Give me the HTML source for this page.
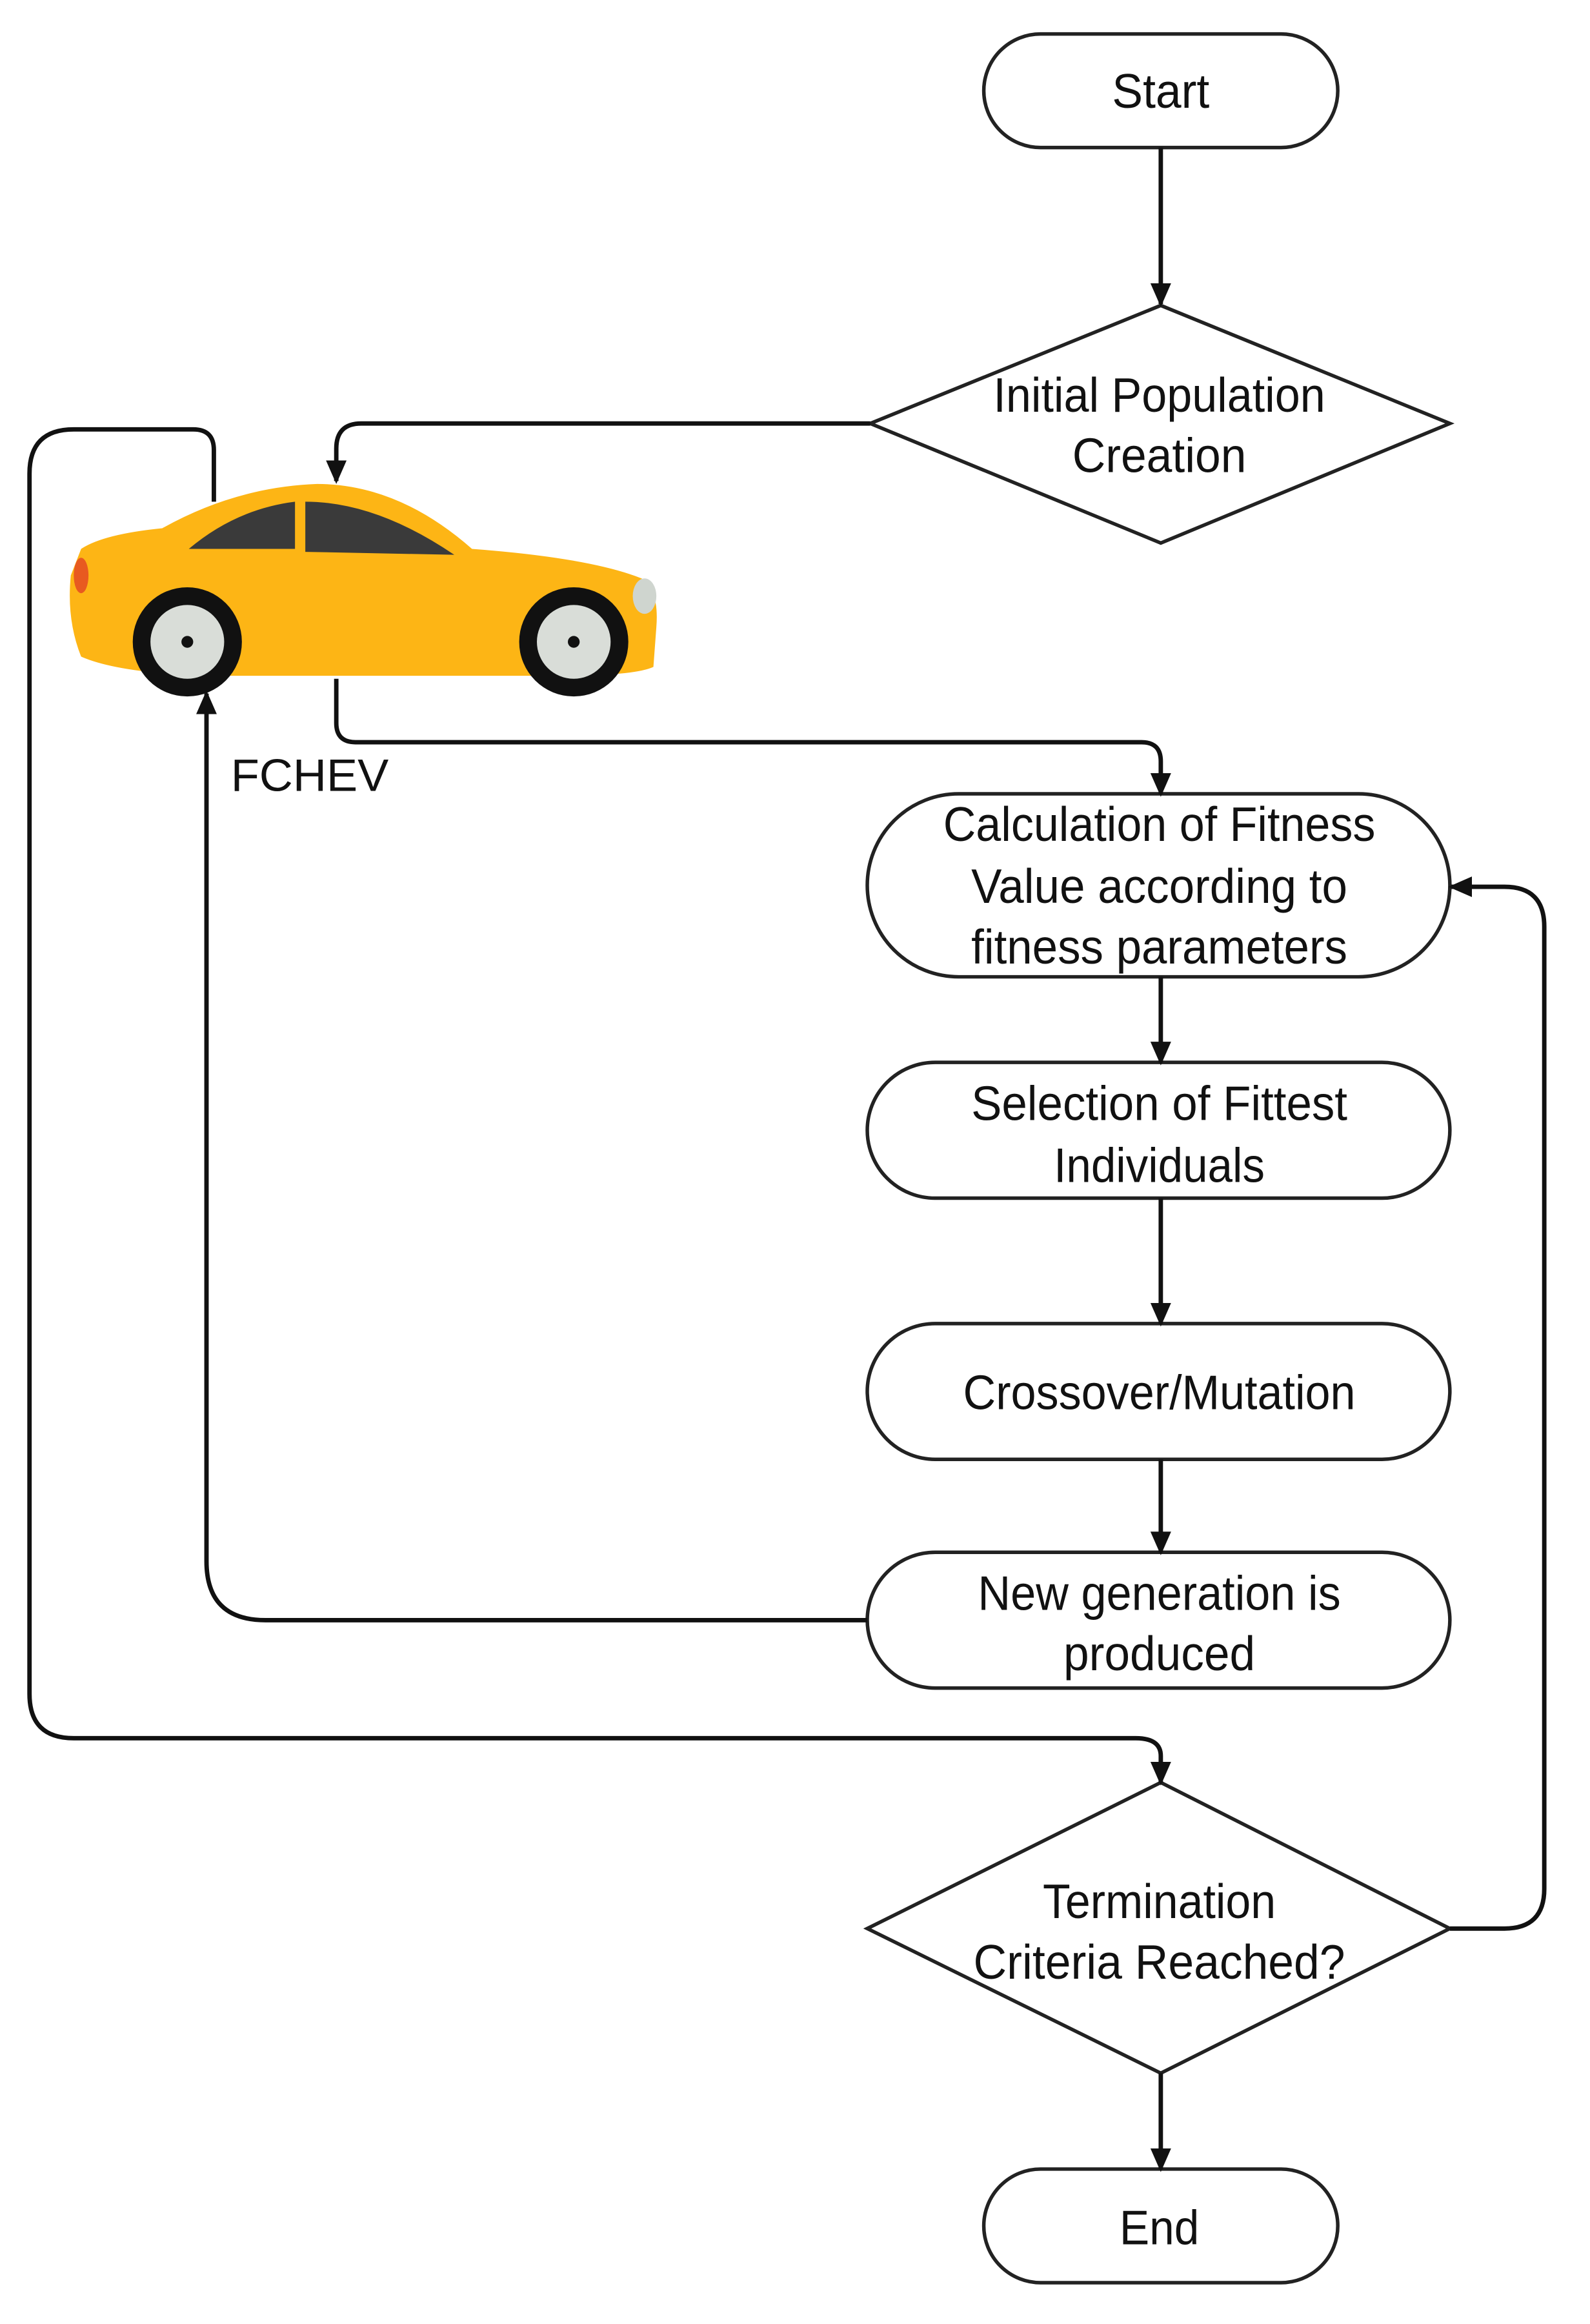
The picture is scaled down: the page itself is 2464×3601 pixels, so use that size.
<!DOCTYPE html>
<html><head><meta charset="utf-8"><style>
html,body{margin:0;padding:0;background:#fff;}
svg{display:block;}
text{font-family:"Liberation Sans",sans-serif;fill:#111;}
</style></head><body>
<svg width="2464" height="3601" viewBox="0 0 1078 1575" preserveAspectRatio="none" xmlns="http://www.w3.org/2000/svg">
<defs>
<marker id="ah" markerWidth="16" markerHeight="16" refX="14" refY="7" orient="auto" markerUnits="userSpaceOnUse" viewBox="0 0 16 14">
<path d="M0,0 L16,7 L0,14 z" fill="#111"/>
</marker>
</defs>
<rect width="1078" height="1575" fill="#fff"/>
<g fill="none" stroke="#222" stroke-width="2.4">
<rect x="667" y="23" width="240" height="77" rx="38.5"/>
<polygon points="590,287 787,207 983,287 787,368"/>
<rect x="588" y="538" width="395" height="124" rx="62"/>
<rect x="588" y="720" width="395" height="92" rx="46"/>
<rect x="588" y="897" width="395" height="92" rx="46"/>
<rect x="588" y="1052" width="395" height="92" rx="46"/>
<polygon points="588,1307 787,1208 983,1307 787,1405"/>
<rect x="667" y="1470" width="240" height="77" rx="38.5"/>
</g>
<g fill="none" stroke="#111" stroke-width="3">
<line x1="787" y1="100" x2="787" y2="206" marker-end="url(#ah)"/>
<path d="M590,287 L245,287 Q228,287 228,304 L228,326" marker-end="url(#ah)"/>
<path d="M228,460 L228,490 Q228,503 241,503 L774,503 Q787,503 787,516 L787,538" marker-end="url(#ah)"/>
<line x1="787" y1="662" x2="787" y2="720" marker-end="url(#ah)"/>
<line x1="787" y1="812" x2="787" y2="897" marker-end="url(#ah)"/>
<line x1="787" y1="989" x2="787" y2="1052" marker-end="url(#ah)"/>
<path d="M588,1098 L180,1098 Q140,1098 140,1058 L140,470" marker-end="url(#ah)"/>
<path d="M145,340 L145,305 Q145,291 131,291 L50,291 Q20,291 20,321 L20,1148 Q20,1178 50,1178 L770,1178 Q787,1178 787,1190 L787,1208" marker-end="url(#ah)"/>
<path d="M983,1307 L1020,1307 Q1047,1307 1047,1280 L1047,628 Q1047,601 1020,601 L984,601" marker-end="url(#ah)"/>
<line x1="787" y1="1405" x2="787" y2="1470" marker-end="url(#ah)"/>
</g>
<g>
<path d="M55,372 Q70,362 110,358 Q160,330 215,328 Q270,328 320,372 Q400,378 435,392 Q447,400 445,425 L443,452 Q430,458 380,458 L140,458 Q80,456 55,445 Q45,420 48,390 Z" fill="#FDB515"/>
<path d="M128,372 Q160,345 200,340 L200,372 Z" fill="#3a3a3a"/>
<path d="M207,340 Q255,340 308,376 L207,374 Z" fill="#3a3a3a"/>
<ellipse cx="55" cy="390" rx="5" ry="12" fill="#e85a20"/>
<ellipse cx="437" cy="404" rx="8" ry="12" fill="#cfd5cf"/>
<circle cx="127" cy="435" r="37" fill="#111"/>
<circle cx="127" cy="435" r="25" fill="#d9ddd8"/>
<circle cx="127" cy="435" r="4" fill="#111"/>
<circle cx="389" cy="435" r="37" fill="#111"/>
<circle cx="389" cy="435" r="25" fill="#d9ddd8"/>
<circle cx="389" cy="435" r="4" fill="#111"/>
</g>
<g font-size="33" text-anchor="middle">
<text x="787" y="73" textLength="66" lengthAdjust="spacingAndGlyphs">Start</text>
<text x="786" y="279" textLength="225" lengthAdjust="spacingAndGlyphs">Initial Population</text>
<text x="786" y="320" textLength="118" lengthAdjust="spacingAndGlyphs">Creation</text>
<text x="210" y="536" font-size="31" textLength="107" lengthAdjust="spacingAndGlyphs">FCHEV</text>
<text x="786" y="570" textLength="293" lengthAdjust="spacingAndGlyphs">Calculation of Fitness</text>
<text x="786" y="612" textLength="255" lengthAdjust="spacingAndGlyphs">Value according to</text>
<text x="786" y="653" textLength="255" lengthAdjust="spacingAndGlyphs">fitness parameters</text>
<text x="786" y="759" textLength="255" lengthAdjust="spacingAndGlyphs">Selection of Fittest</text>
<text x="786" y="801" textLength="143" lengthAdjust="spacingAndGlyphs">Individuals</text>
<text x="786" y="955" textLength="266" lengthAdjust="spacingAndGlyphs">Crossover/Mutation</text>
<text x="786" y="1091" textLength="246" lengthAdjust="spacingAndGlyphs">New generation is</text>
<text x="786" y="1132" textLength="130" lengthAdjust="spacingAndGlyphs">produced</text>
<text x="786" y="1300" textLength="158" lengthAdjust="spacingAndGlyphs">Termination</text>
<text x="786" y="1341" textLength="252" lengthAdjust="spacingAndGlyphs">Criteria Reached?</text>
<text x="786" y="1521" textLength="54" lengthAdjust="spacingAndGlyphs">End</text>
</g>
</svg>
</body></html>
